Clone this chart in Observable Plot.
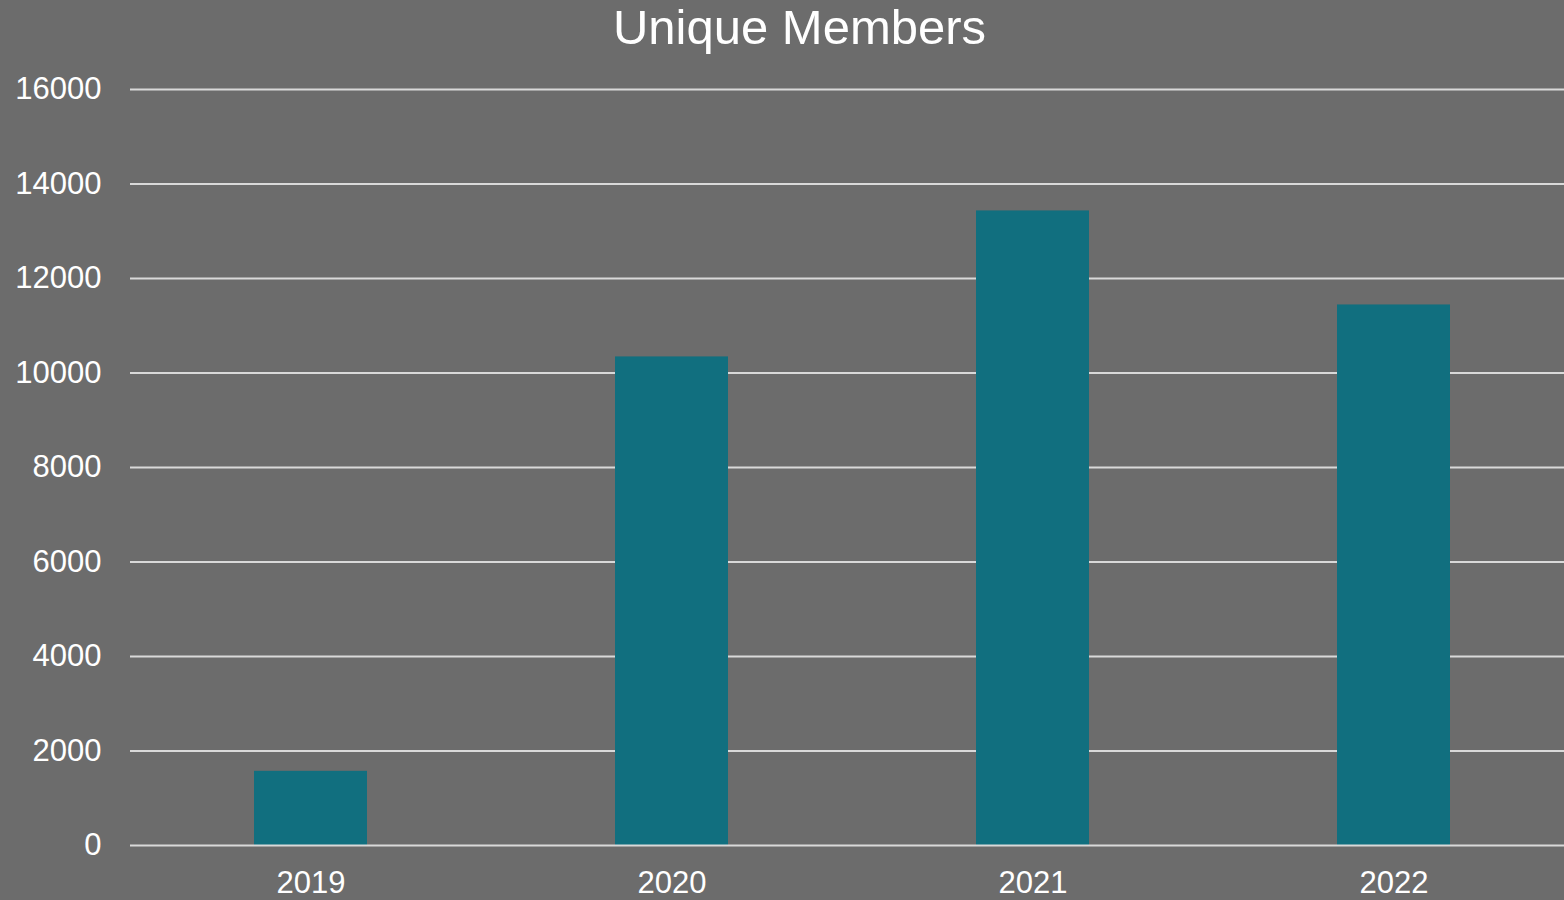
<!DOCTYPE html>
<html>
<head>
<meta charset="utf-8">
<script src="https://cdn.jsdelivr.net/npm/d3@7"></script>
<script src="https://cdn.jsdelivr.net/npm/@observablehq/plot@0.6"></script>
<style>
  html, body { margin: 0; padding: 0; background: #6c6c6c; width: 1564px; height: 900px; overflow: hidden; }
  #title { height: 60px; width: 1564px; text-align: center; color: #ffffff;
           font-family: "Liberation Sans", Arial, sans-serif; font-size: 49px; line-height: 55px;
           padding-left: 35px; box-sizing: border-box; }
  #chart svg { display: block; }
</style>
</head>
<body>
<div id="title">Unique Members</div>
<div id="chart"></div>
<script>
const years = ["2019", "2020", "2021", "2022"];
const members = [1570, 10340, 13430, 11440];
const yTicks = [0, 2000, 4000, 6000, 8000, 10000, 12000, 14000, 16000];

const data = years.map((y, i) => ({year: y, value: members[i]}));

const chart = Plot.plot({
  width: 1564,
  height: 840,
  marginLeft: 130,
  marginRight: 0,
  marginTop: 29,
  marginBottom: 55,
  style: {background: "#6c6c6c", color: "#ffffff", fontFamily: "'Liberation Sans', Arial, sans-serif", fontSize: "31px"},
  x: {type: "band", domain: years, range: [130, 1574], paddingInner: 0.687, paddingOuter: 0.3435, label: null},
  y: {domain: [0, 16000], label: null},
  marks: [
    Plot.ruleY(yTicks.filter(d => d > 0), {stroke: "#d9d9d9", strokeWidth: 2}),
    Plot.barY(data, {x: "year", y: "value", fill: "#116f7f"}),
    Plot.ruleY([0], {stroke: "#d9d9d9", strokeWidth: 2}),
    Plot.axisY({ticks: yTicks, tickFormat: d => String(d), tickSize: 0, tickPadding: 29, fontSize: 31, fill: "#ffffff"}),
    Plot.axisX({tickSize: 0, tickPadding: 25, fontSize: 31, fill: "#ffffff"})
  ]
});
document.getElementById("chart").appendChild(chart);
</script>
</body>
</html>
